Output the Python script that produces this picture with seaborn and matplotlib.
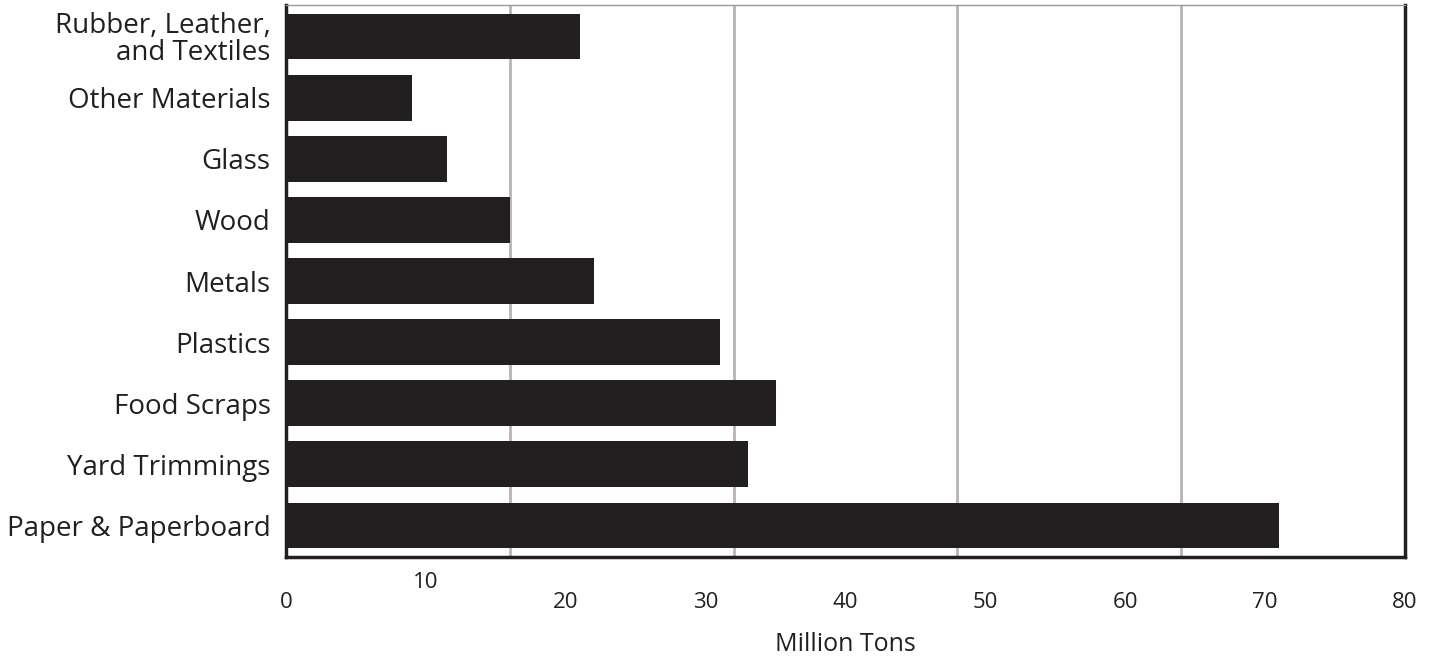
import pandas as pd
import seaborn as sns
import matplotlib.pyplot as plt
from matplotlib.transforms import ScaledTranslation

# Data
materials = ["Rubber, Leather,\nand Textiles", "Other Materials", "Glass", "Wood", "Metals",
             "Plastics", "Food Scraps", "Yard Trimmings", "Paper & Paperboard"]
million_tons = [21, 9, 11.5, 16, 22, 31, 35, 33, 71]
x_ticks = [0, 10, 20, 30, 40, 50, 60, 70, 80]
grid_lines = [16, 32, 48, 64]

df = pd.DataFrame({"material": materials, "tons": million_tons})

sns.set_style("white")
plt.rcParams["font.family"] = ["Open Sans", "DejaVu Sans"]
plt.rcParams["axes.axisbelow"] = False

fig = plt.figure(figsize=(14.35, 6.62), dpi=100)
ax = fig.add_axes([0.1993, 0.1586, 0.7798, 0.8338])

dark = "#231f20"
for g in grid_lines:
    ax.axvline(g, color="#b5b5b5", lw=2, zorder=0)

sns.barplot(data=df, x="tons", y="material", color=dark, saturation=1,
            width=0.75, linewidth=0, ax=ax, zorder=2)

ax.set_xlim(0, 80)
ax.set_ylim(8.515, -0.515)
ax.set_xticks(x_ticks)
ax.set_xticklabels([str(t) for t in x_ticks], fontsize=16, color=dark)
ax.tick_params(axis="x", direction="in", length=8, width=2, color=dark, pad=25)
ax.tick_params(axis="y", length=0, pad=11, labelsize=20, labelcolor=dark)
ax.xaxis.set_zorder(3)
for lab in ax.get_yticklabels():
    lab.set_horizontalalignment("right")
    lab.set_multialignment("right")
    lab.set_linespacing(0.95)

# the "10" label sits higher in the original
lab10 = ax.get_xticklabels()[1]
lab10.set_transform(lab10.get_transform() + ScaledTranslation(0, 20 / 100, fig.dpi_scale_trans))

ax.set_xlabel("Million Tons", fontsize=18, color=dark, labelpad=14)
ax.set_ylabel("")

for side in ["left", "bottom", "right"]:
    ax.spines[side].set_color(dark)
    ax.spines[side].set_linewidth(2.5)
ax.spines["top"].set_color("#999999")
ax.spines["top"].set_linewidth(1)

fig.savefig("out.png", dpi=100)
